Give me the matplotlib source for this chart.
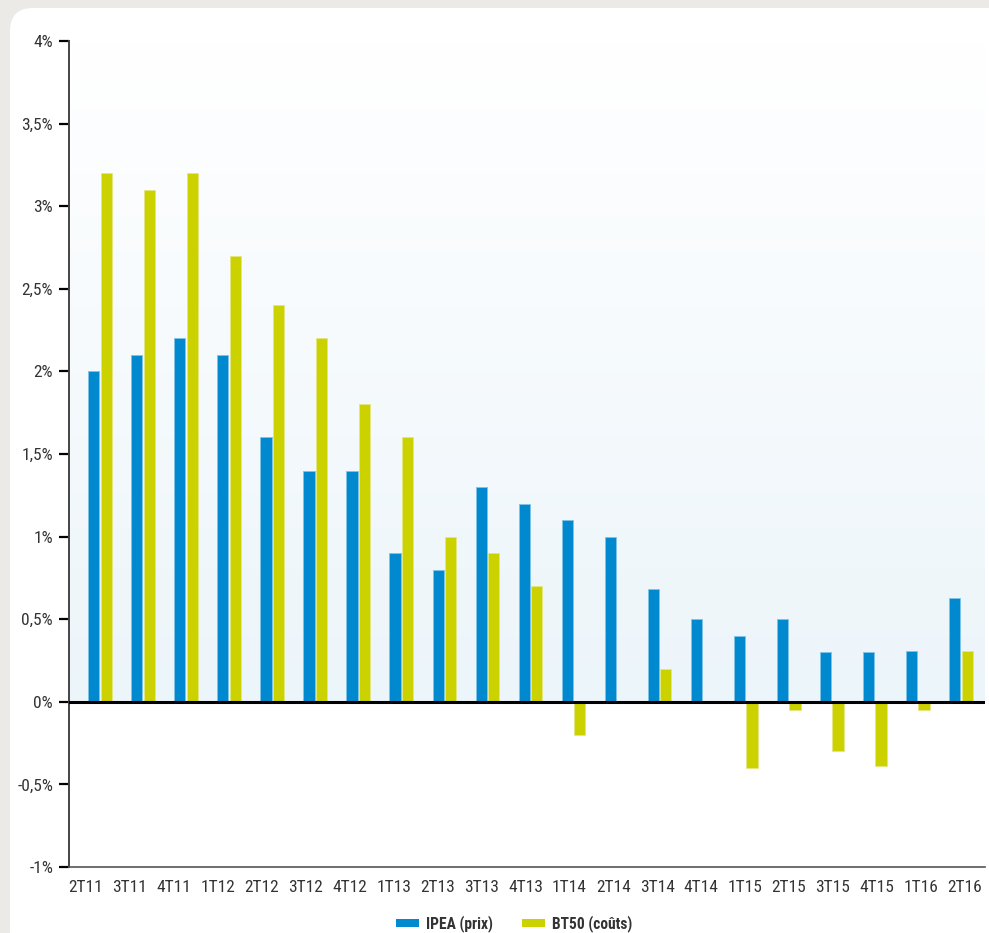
import numpy as np
import matplotlib
matplotlib.use("Agg")
import matplotlib.pyplot as plt
from matplotlib.patches import FancyBboxPatch, Patch
from matplotlib.colors import LinearSegmentedColormap

# Quarterly change, in %
quarters = ["2T11", "3T11", "4T11", "1T12", "2T12", "3T12", "4T12",
            "1T13", "2T13", "3T13", "4T13", "1T14", "2T14", "3T14",
            "4T14", "1T15", "2T15", "3T15", "4T15", "1T16", "2T16"]
ipea = [2.0, 2.1, 2.2, 2.1, 1.6, 1.4, 1.4, 0.9, 0.8, 1.3, 1.2, 1.1,
        1.0, 0.68, 0.5, 0.4, 0.5, 0.3, 0.3, 0.31, 0.63]
bt50 = [3.2, 3.1, 3.2, 2.7, 2.4, 2.2, 1.8, 1.6, 1.0, 0.9, 0.7, -0.2,
        0.0, 0.2, 0.0, -0.4, -0.05, -0.3, -0.39, -0.05, 0.31]
yticks = [-1, -0.5, 0, 0.5, 1, 1.5, 2, 2.5, 3, 3.5, 4]
ytick_labels = ["-1%", "-0,5%", "0%", "0,5%", "1%", "1,5%", "2%",
                "2,5%", "3%", "3,5%", "4%"]
series_names = ["IPEA (prix)", "BT50 (coûts)"]

BLUE = "#0089CF"
GREEN = "#CCD100"
TEXT = "#333333"
FONT = ["Liberation Sans Narrow", "Roboto Condensed", "DejaVu Sans"]
plt.rcParams["font.family"] = FONT
plt.rcParams["font.stretch"] = "condensed"

W, H = 989, 933
fig = plt.figure(figsize=(W / 100, H / 100), dpi=100)
fig.patch.set_facecolor("#EBEAE6")

# white rounded panel behind the axes
panel = FancyBboxPatch((0.10, -0.20), 10.2, 9.45,
                       boxstyle="round,pad=0,rounding_size=0.23",
                       transform=fig.dpi_scale_trans,
                       facecolor="white", edgecolor="none", zorder=-5)
fig.patches.append(panel)

ax_l, ax_r, ax_t, ax_b = 69, 985, 41, 867
ax = fig.add_axes([ax_l / W, 1 - ax_b / H, (ax_r - ax_l) / W, (ax_b - ax_t) / H])
ax.set_facecolor("none")
ax.set_zorder(1)

n = len(quarters)
x = np.arange(n)
xmin, xmax = -0.72, n - 1 + 0.56
ax.set_xlim(xmin, xmax)
ax.set_ylim(-1, 4)

# soft gradient above the zero line
cmap = LinearSegmentedColormap.from_list("bg", ["#ECF5FA", "#FFFFFF"])
grad = np.linspace(0, 1, 256).reshape(-1, 1)
ax.imshow(grad, cmap=cmap, origin="lower", aspect="auto",
          extent=(xmin, xmax, 0, 4), zorder=0)

bw = 0.26
off = 0.145
ax.bar(x - off, ipea, width=bw, color=BLUE, edgecolor="#7FC3E8",
       linewidth=0.6, zorder=2)
ax.bar(x + off, bt50, width=bw, color=GREEN, edgecolor="#E4E77F",
       linewidth=0.6, zorder=2)

ax.axhline(0, color="black", linewidth=2.2, zorder=3)

for s in ("top", "right"):
    ax.spines[s].set_visible(False)
ax.spines["left"].set_color("#444444")
ax.spines["left"].set_linewidth(1.4)
ax.spines["bottom"].set_color("#555555")
ax.spines["bottom"].set_linewidth(1.2)

ax.set_yticks(yticks)
ax.set_yticklabels(ytick_labels)
ax.tick_params(axis="y", length=7.5, width=1.6, color="black", pad=4,
               labelsize=12.5, labelcolor=TEXT)

# category labels spread slightly wider than the bar groups
label_pos = (86 + 43.95 * x - 100) / 43.05
ax.set_xticks(label_pos)
ax.set_xticklabels(quarters)
ax.tick_params(axis="x", length=0, pad=9, labelsize=12.5, labelcolor=TEXT)

handles = [Patch(facecolor=BLUE, edgecolor="none", label=series_names[0]),
           Patch(facecolor=GREEN, edgecolor="none", label=series_names[1])]
leg = fig.legend(handles=handles, loc="center", ncol=2,
                 bbox_to_anchor=(514 / W, 1 - 924 / H),
                 frameon=False, handlelength=1.5, handleheight=0.45,
                 handletextpad=0.4, columnspacing=1.9,
                 prop={"family": FONT, "weight": "bold", "size": 11.2,
                       "stretch": "condensed"})
for t in leg.get_texts():
    t.set_color(TEXT)

fig.savefig("out.png", dpi=100, facecolor=fig.get_facecolor())
